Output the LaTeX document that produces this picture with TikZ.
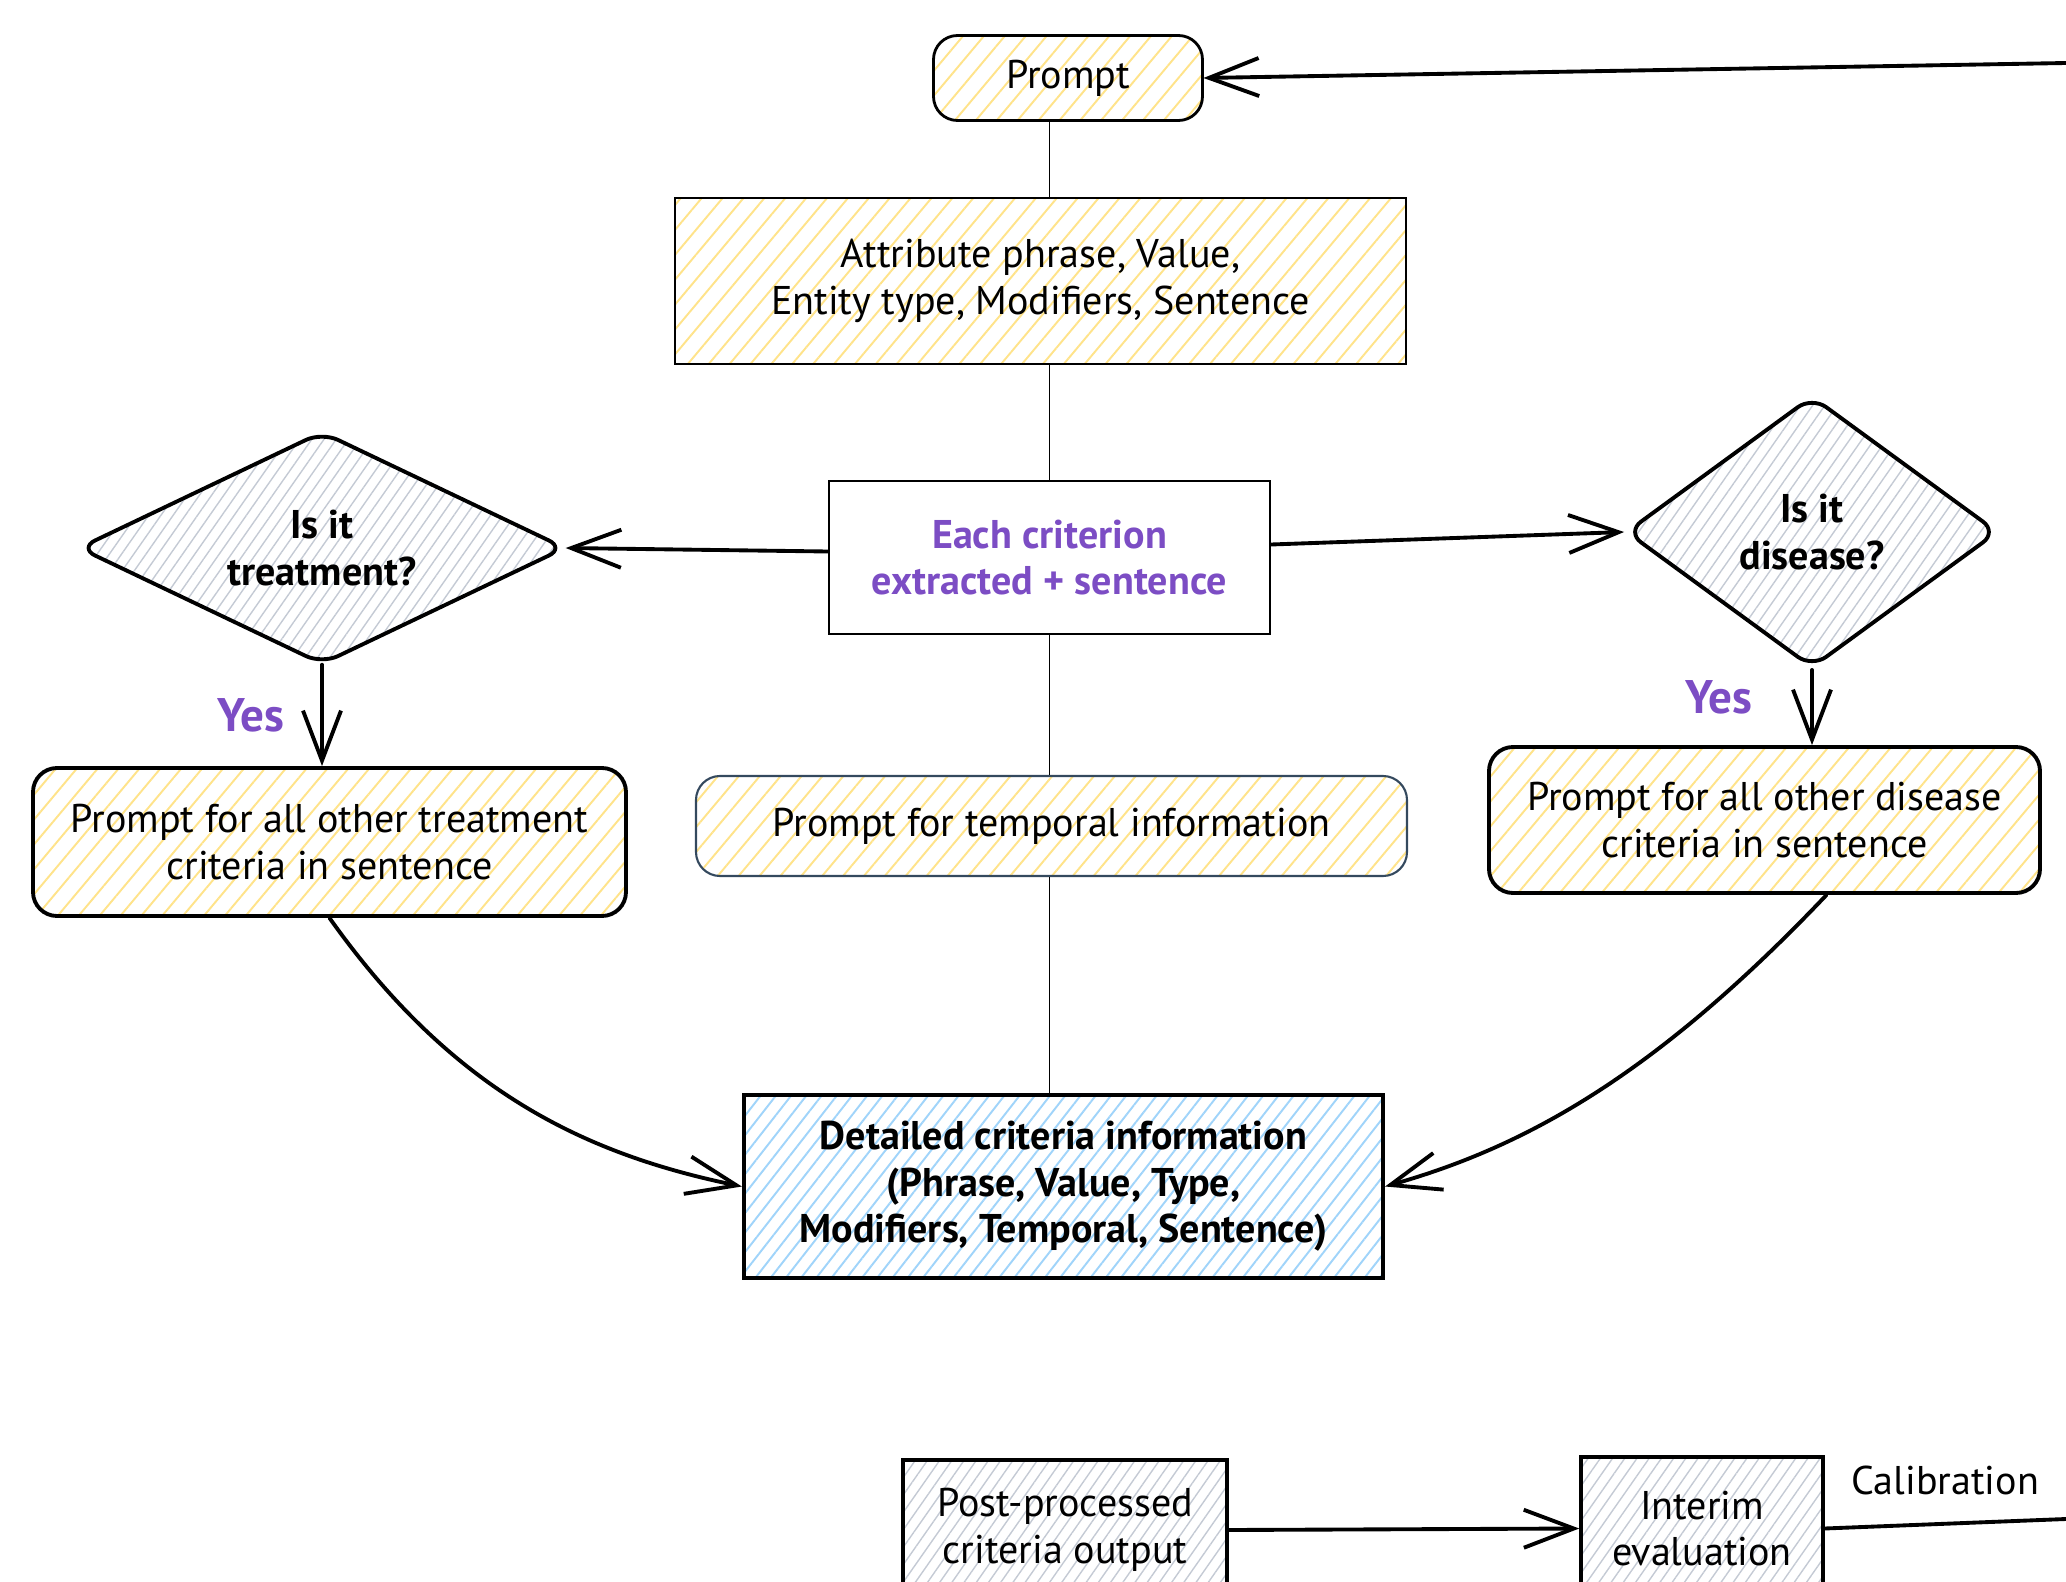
\documentclass[tikz,border=0pt]{standalone}
\usepackage{fontspec}
\setmainfont{PT Sans}
\usetikzlibrary{arrows.meta,shapes.geometric,patterns.meta}

\definecolor{hatchyellow}{RGB}{255,227,138}
\definecolor{hatchgray}{RGB}{196,202,212}
\definecolor{hatchblue}{RGB}{160,212,250}
\definecolor{critpurple}{RGB}{124,77,196}
\definecolor{slateedge}{RGB}{52,73,94}

\begin{document}
\begin{tikzpicture}[
  >={Straight Barb[length=5mm,width=3.8mm]},
  every node/.style={font=\fontsize{11.4}{13.2}\selectfont},
  yellowhatch/.style={pattern={Lines[angle=50,distance=1.6mm,line width=0.55pt]},pattern color=hatchyellow},
  grayhatch/.style={pattern={Lines[angle=55,distance=1.0mm,line width=0.4pt]},pattern color=hatchgray},
  bluehatch/.style={pattern={Lines[angle=52,distance=1.2mm,line width=0.55pt]},pattern color=hatchblue},
  stepbox/.style={draw,align=center,inner sep=0pt,line width=0.8pt},
  roundbox/.style={stepbox,rounded corners=2.4mm},
  decision/.style={diamond,draw,align=center,inner sep=0pt,aspect=2,line width=1.1pt,
    rounded corners=5pt,grayhatch,font=\bfseries\fontsize{11.4}{13.2}\selectfont},
  flowarrow/.style={->,line width=1.1pt,line cap=round,line join=round},
  spine/.style={line width=0.45pt},
  yeslabel/.style={text=critpurple,font=\bfseries\fontsize{13.4}{15}\selectfont}
]
  \path[use as bounding box,clip] (0,0) rectangle (20.66,-15.82);

  % top of the pipeline
  \node[roundbox,yellowhatch,minimum width=2.69cm,minimum height=0.85cm] (prompt) at (10.68,-0.78) {Prompt};
  \node[stepbox,yellowhatch,minimum width=7.31cm,minimum height=1.66cm] (attr) at (10.405,-2.81)
    {Attribute phrase, Value,\\Entity type, Modifiers, Sentence};
  \node[stepbox,line width=0.7pt,minimum width=4.41cm,minimum height=1.53cm,text=critpurple,
    font=\bfseries\fontsize{11.4}{13.2}\selectfont] (crit) at (10.495,-5.575)
    {Each criterion\\extracted + sentence};

  % the two questions
  \node[decision,minimum width=4.86cm,minimum height=2.32cm] (treat) at (3.22,-5.48) {Is it\\treatment?};
  \node[decision,minimum width=3.72cm,minimum height=2.72cm] (disease) at (18.12,-5.32) {Is it\\disease?};

  \node[roundbox,yellowhatch,line width=1.1pt,minimum width=5.93cm,minimum height=1.48cm] (leftprompt) at (3.295,-8.42)
    {Prompt for all other treatment\\criteria in sentence};
  \node[roundbox,yellowhatch,line width=1.1pt,minimum width=5.51cm,minimum height=1.46cm] (rightprompt) at (17.645,-8.20)
    {Prompt for all other disease\\criteria in sentence};
  \node[roundbox,yellowhatch,draw=slateedge,line width=0.6pt,minimum width=7.11cm,minimum height=1.0cm] (temporal) at (10.515,-8.26)
    {Prompt for temporal information};

  \node[stepbox,bluehatch,line width=1.2pt,minimum width=6.39cm,minimum height=1.83cm,
    font=\bfseries\fontsize{11.4}{13.2}\selectfont] (detailed) at (10.635,-11.865)
    {Detailed criteria information\\(Phrase, Value, Type,\\Modifiers, Temporal, Sentence)};

  % bottom row, cut by the frame
  \node[stepbox,grayhatch,line width=1pt,minimum width=3.24cm,minimum height=1.40cm] (post) at (10.65,-15.30)
    {Post-processed\\criteria output};
  \node[stepbox,grayhatch,line width=1pt,minimum width=2.42cm,minimum height=1.43cm] (interim) at (17.02,-15.285)
    {Interim\\evaluation};

  \coordinate (loopin) at (20.66,-0.63);
  \coordinate (loopout) at (20.66,-15.19);

  \draw[spine] (prompt.south -| crit.north) -- (attr.north -| crit.north);
  \draw[spine] (attr.south -| crit.north) -- (crit.north);
  \draw[spine] (crit.south) -- (temporal.north -| crit.south);
  \draw[spine] (temporal.south -| crit.south) -- (detailed.north -| crit.south);

  \draw[flowarrow] (loopin) -- (prompt.east);
  \draw[flowarrow] ([yshift=0.6mm]crit.west) -- (treat.east);
  \draw[flowarrow] ([yshift=1.3mm]crit.east) -- (disease.west);
  \draw[flowarrow] (treat.south) -- node[yeslabel,left=2.4mm] {Yes} (treat.south |- leftprompt.north);
  \draw[flowarrow] (disease.south) -- node[yeslabel,left=4.6mm,yshift=1mm] {Yes} (disease.south |- rightprompt.north);
  \draw[flowarrow] (leftprompt.south) .. controls (4.55,-10.95) and (5.9,-11.55) .. (detailed.west);
  \draw[flowarrow] ([xshift=6.2mm]rightprompt.south) .. controls (16.48,-10.83) and (15.17,-11.49) .. (detailed.east);
  \draw[flowarrow] (post.east) -- (interim.west);
  \draw[line width=1.1pt,line cap=round] (interim.east) -- node[above=1.5mm] {Calibration} (loopout);
\end{tikzpicture}
\end{document}
